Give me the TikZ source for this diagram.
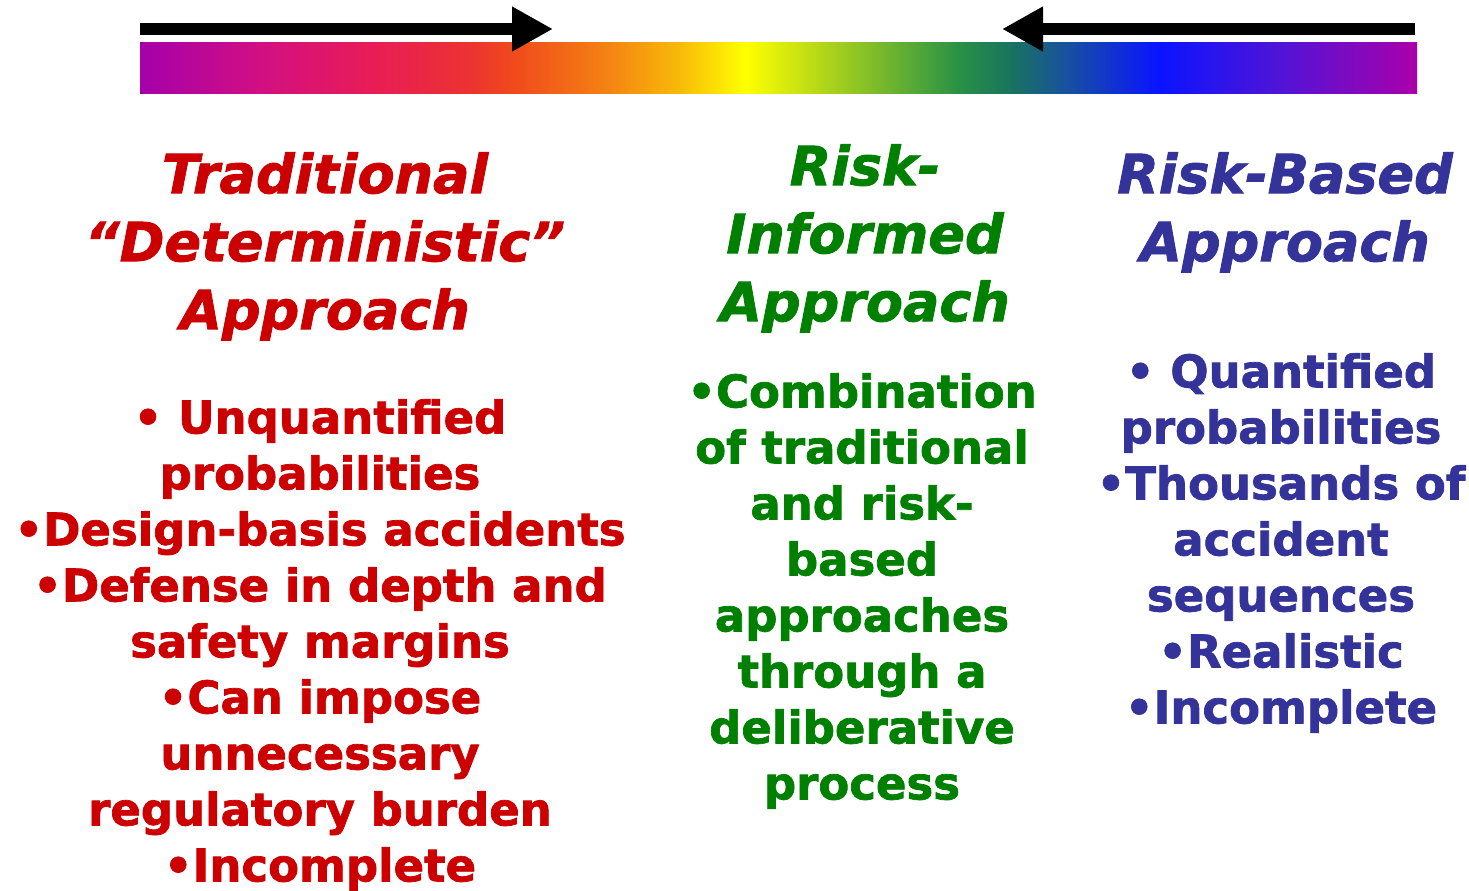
\documentclass[tikz,border=0pt]{standalone}
\usepackage{fontspec}
\setmainfont{DejaVu Sans}[BoldFeatures={FakeBold=1.6},
  BoldItalicFeatures={FakeBold=1.6}]
\usetikzlibrary{arrows.meta}
\definecolor{tradred}{RGB}{204,0,0}
\definecolor{infogreen}{RGB}{0,128,0}
\definecolor{basedblue}{RGB}{51,51,153}
\pgfdeclarehorizontalshading{rainbowbar}{100bp}{%
  color(0bp)=(rgb,255:red,165;green,0;blue,170);
  color(25bp)=(rgb,255:red,165;green,0;blue,170);
  color(29.7bp)=(rgb,255:red,210;green,15;blue,130);
  color(34bp)=(rgb,255:red,232;green,28;blue,88);
  color(37.9bp)=(rgb,255:red,236;green,50;blue,50);
  color(39.7bp)=(rgb,255:red,240;green,75;blue,28);
  color(43bp)=(rgb,255:red,244;green,125;blue,20);
  color(46.1bp)=(rgb,255:red,248;green,185;blue,10);
  color(48.7bp)=(rgb,255:red,255;green,255;blue,0);
  color(52.4bp)=(rgb,255:red,160;green,205;blue,30);
  color(57.1bp)=(rgb,255:red,40;green,145;blue,70);
  color(59.1bp)=(rgb,255:red,25;green,115;blue,95);
  color(61bp)=(rgb,255:red,25;green,85;blue,150);
  color(64.9bp)=(rgb,255:red,10;green,20;blue,255);
  color(69.6bp)=(rgb,255:red,80;green,20;blue,215);
  color(75bp)=(rgb,255:red,170;green,0;blue,170);
  color(100bp)=(rgb,255:red,170;green,0;blue,170)}
\tikzset{
  spectrum/.style={minimum width=1277pt, minimum height=50pt, inner sep=0pt,
    shading=rainbowbar},
  push/.style={line width=12pt, -{Triangle[length=41pt,width=42pt]}},
  heading/.style={align=center, inner sep=0pt, anchor=north,
    font=\fontsize{54}{68}\selectfont\bfseries\itshape},
  points/.style={align=center, inner sep=0pt, anchor=north,
    font=\fontsize{45}{56}\selectfont\bfseries}
}
\begin{document}
\begin{tikzpicture}[x=1pt,y=-1pt]
  \useasboundingbox (0,0) rectangle (1469,891);
  \node[spectrum] (bar) at (778.5,68) {};
  \coordinate (lefttail) at (140,29);
  \coordinate (lefttip) at (553,29);
  \coordinate (righttail) at (1415,29);
  \coordinate (righttip) at (1002,29);
  \draw[push] (lefttail) -- (lefttip);
  \draw[push] (righttail) -- (righttip);

  \node[heading, tradred] (tradhead) at (325,152)
    {Traditional\\“Deterministic”\\Approach};
  \node[points, tradred] (tradlist) at (320,399)
    {• Unquantified\\probabilities\\•Design-basis accidents\\•Defense in depth and\\safety margins\\•Can impose\\unnecessary\\regulatory burden\\•Incomplete};

  \node[heading, infogreen] (infohead) at (865,144)
    {Risk-\\Informed\\Approach};
  \node[points, infogreen] (infolist) at (862,373)
    {•Combination\\of traditional\\and risk-\\based\\approaches\\through a\\deliberative\\process};

  \node[heading, basedblue] (basedhead) at (1285,152)
    {Risk-Based\\Approach};
  \node[points, basedblue] (basedlist) at (1281,353)
    {• Quantified\\probabilities\\•Thousands of\\accident\\sequences\\•Realistic\\•Incomplete};
\end{tikzpicture}
\end{document}
